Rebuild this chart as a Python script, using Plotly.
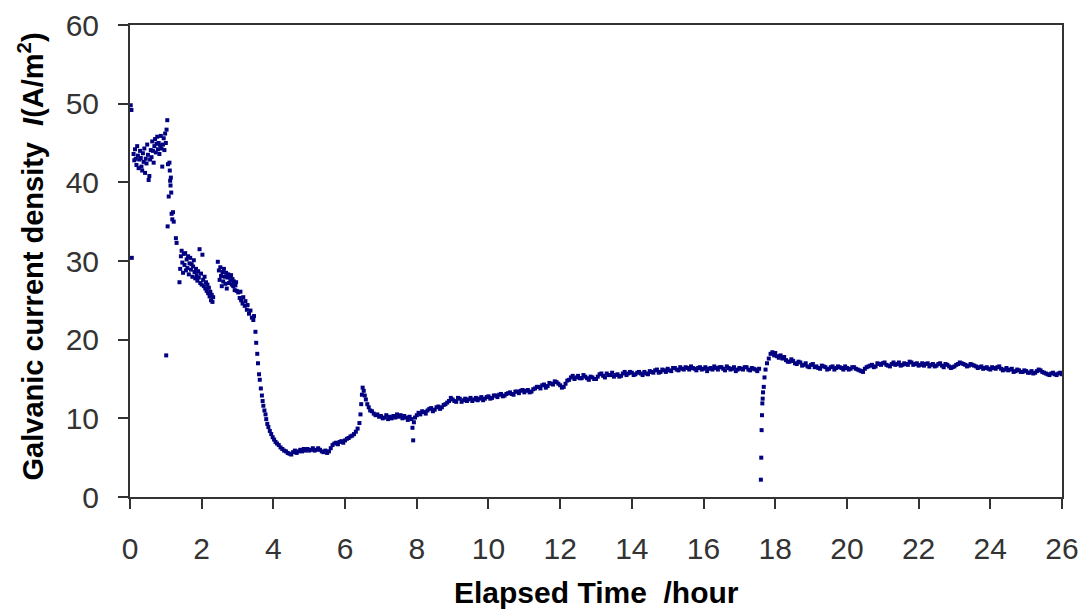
import plotly.graph_objects as go

# ---- data: (hour, current density A/m^2) ----
start_pts = [
    (0.02, 49.8), (0.04, 49.2), (0.05, 30.4), (0.10, 43.6), (0.12, 42.8), (0.14, 44.2), (0.16, 43.0),
    (0.18, 42.2), (0.20, 44.6), (0.22, 43.4), (0.24, 41.8), (0.26, 42.9), (0.28, 44.0), (0.30, 43.1),
    (0.32, 42.0), (0.34, 41.5), (0.36, 43.7), (0.38, 42.6), (0.40, 44.3), (0.42, 41.2), (0.44, 43.0),
    (0.46, 42.4), (0.48, 44.8), (0.50, 43.5), (0.52, 40.3), (0.54, 40.8), (0.56, 42.9), (0.58, 44.1),
    (0.60, 43.2), (0.62, 45.2), (0.64, 44.0), (0.66, 42.5), (0.68, 44.6), (0.70, 45.5), (0.72, 43.8),
    (0.74, 44.9), (0.76, 45.8), (0.78, 44.2), (0.80, 45.0), (0.82, 43.6), (0.84, 44.7), (0.86, 45.9),
    (0.88, 44.3), (0.90, 42.0), (0.92, 44.8), (0.94, 45.6), (0.96, 44.1), (0.98, 46.2), (1.00, 45.0),
    (1.01, 18.0), (1.02, 46.7), (1.04, 47.9), (1.05, 34.4), (1.06, 42.3), (1.08, 38.2), (1.10, 42.5),
    (1.11, 41.5), (1.12, 40.2), (1.13, 39.6), (1.14, 40.6), (1.15, 38.7), (1.16, 36.0), (1.18, 35.3),
    (1.20, 36.2), (1.22, 35.0), (1.28, 32.9), (1.30, 32.3),
]

plateau_pts = [
    (1.38, 27.3), (1.40, 29.0), (1.42, 30.6), (1.44, 31.3), (1.46, 29.8), (1.48, 28.5), (1.50, 30.9),
    (1.52, 29.5), (1.54, 31.0), (1.56, 28.8), (1.58, 30.2), (1.60, 29.1), (1.62, 30.6), (1.64, 28.3),
    (1.66, 29.7), (1.68, 30.4), (1.70, 28.9), (1.72, 29.6), (1.74, 28.0), (1.76, 29.3), (1.78, 30.1),
    (1.80, 28.6), (1.82, 27.8), (1.84, 29.0), (1.86, 28.2), (1.88, 27.5), (1.90, 28.7), (1.92, 27.9),
    (1.94, 31.5), (1.96, 27.2), (1.98, 28.4), (2.00, 27.0), (2.02, 30.8), (2.04, 27.6), (2.06, 26.8),
    (2.08, 28.0), (2.10, 26.5), (2.12, 27.3), (2.14, 26.2), (2.16, 27.0), (2.18, 25.9), (2.20, 26.6),
    (2.22, 25.5), (2.24, 26.1), (2.26, 25.0), (2.28, 25.7), (2.30, 24.8), (2.32, 25.4),
    (2.45, 29.9), (2.48, 28.8), (2.50, 27.6), (2.52, 29.2), (2.54, 28.1), (2.56, 26.8), (2.58, 28.6),
    (2.60, 27.4), (2.62, 29.0), (2.64, 28.0), (2.66, 27.1), (2.68, 28.5), (2.70, 26.5), (2.72, 27.9),
    (2.74, 28.3), (2.76, 27.2), (2.78, 28.0), (2.80, 27.5), (2.82, 28.2), (2.84, 27.0), (2.86, 27.7),
    (2.88, 26.8), (2.90, 27.4), (2.92, 26.3), (2.94, 26.9), (2.96, 27.3), (2.98, 26.2), (3.02, 26.0),
    (3.06, 25.3), (3.08, 26.1), (3.10, 25.0), (3.14, 24.6), (3.16, 25.4), (3.20, 24.3), (3.22, 24.9),
    (3.26, 23.8), (3.28, 24.4), (3.32, 23.3), (3.36, 23.7), (3.40, 22.8), (3.44, 22.5), (3.46, 23.0),
]

drop_pts = [
    (3.50, 21.0), (3.52, 19.6), (3.55, 18.2), (3.57, 17.0), (3.60, 15.6), (3.62, 14.9), (3.65, 13.8),
    (3.68, 12.9), (3.70, 12.2), (3.72, 11.6), (3.75, 11.0), (3.78, 10.5), (3.80, 9.9), (3.83, 9.3),
    (3.86, 8.9), (3.90, 8.4), (3.94, 8.0), (3.98, 7.6), (4.02, 7.3), (4.06, 7.0), (4.10, 6.8),
    (4.15, 6.6), (4.20, 6.3), (4.25, 6.1), (4.30, 5.9), (4.35, 5.8), (4.40, 5.6), (4.45, 5.5),
    (4.50, 5.4), (4.55, 5.7), (4.60, 5.9), (4.65, 5.6), (4.70, 5.8), (4.75, 6.0), (4.80, 5.8),
    (4.85, 6.1), (4.90, 5.9), (4.95, 6.1), (5.00, 5.9), (5.05, 6.0), (5.10, 6.2), (5.15, 5.9),
    (5.20, 6.0), (5.25, 6.2), (5.30, 6.0), (5.35, 5.8), (5.40, 5.7), (5.45, 5.9), (5.50, 5.6),
    (5.55, 5.8), (5.60, 6.2), (5.65, 6.6), (5.70, 6.8), (5.75, 6.9), (5.80, 6.7), (5.85, 7.0),
    (5.90, 7.1), (5.95, 6.9), (6.00, 7.2), (6.05, 7.4), (6.10, 7.5), (6.15, 7.7), (6.20, 7.8),
    (6.25, 8.0), (6.30, 8.3), (6.35, 8.7), (6.40, 9.4), (6.43, 10.5), (6.45, 11.8), (6.47, 13.0),
    (6.49, 13.9), (6.52, 13.5), (6.55, 12.9), (6.58, 12.4), (6.62, 11.8), (6.66, 11.4), (6.70, 11.0),
    (6.75, 10.9), (6.80, 10.6), (6.85, 10.4), (6.90, 10.5), (6.95, 10.2), (7.00, 10.3), (7.05, 10.0),
    (7.10, 10.1), (7.15, 10.4), (7.20, 9.9), (7.25, 10.2), (7.30, 10.0), (7.35, 10.3), (7.40, 10.1),
    (7.45, 10.5), (7.50, 10.2), (7.55, 10.4), (7.60, 10.0), (7.65, 10.3), (7.70, 10.1), (7.75, 9.8),
    (7.80, 10.2), (7.85, 9.9), (7.88, 8.8), (7.90, 7.2), (7.92, 9.5), (7.95, 10.1),
]

rise_pts = [
    (8.00, 10.4), (8.05, 10.7), (8.10, 10.5), (8.15, 10.9), (8.20, 10.8), (8.25, 10.6), (8.30, 11.0),
    (8.35, 11.2), (8.40, 11.3), (8.45, 10.9), (8.50, 11.1), (8.55, 11.4), (8.60, 11.5), (8.65, 11.2),
    (8.70, 11.4), (8.75, 11.7), (8.80, 11.8), (8.85, 12.0), (8.90, 12.2), (8.95, 12.6), (9.00, 12.4),
    (9.05, 12.2), (9.10, 12.1), (9.15, 12.6), (9.20, 12.5), (9.25, 12.1), (9.30, 12.3), (9.35, 12.5),
    (9.40, 12.2), (9.45, 12.4), (9.50, 12.6), (9.55, 12.2), (9.60, 12.4), (9.65, 12.6), (9.70, 12.3),
    (9.75, 12.5), (9.80, 12.7), (9.85, 12.3), (9.90, 12.5), (9.95, 12.7), (10.0, 12.8), (10.05, 12.5),
    (10.1, 12.6), (10.15, 12.9), (10.2, 12.9), (10.25, 12.7), (10.3, 13.0), (10.35, 13.1), (10.4, 12.8),
    (10.45, 12.9), (10.5, 13.1), (10.55, 13.2), (10.6, 13.3), (10.65, 13.1), (10.7, 13.0), (10.75, 13.4),
    (10.8, 13.4), (10.85, 13.2), (10.9, 13.5), (10.95, 13.6), (11.0, 13.3), (11.05, 13.5), (11.1, 13.6),
    (11.15, 13.3), (11.2, 13.4), (11.25, 13.7), (11.3, 13.8), (11.35, 14.0), (11.4, 14.0), (11.45, 13.8),
    (11.5, 14.2), (11.55, 14.3), (11.6, 13.9), (11.65, 14.1), (11.7, 14.5), (11.75, 14.4), (11.8, 14.3),
    (11.85, 14.7), (11.9, 14.6), (11.95, 14.4), (12.0, 14.2), (12.05, 13.9), (12.1, 14.0), (12.15, 14.4),
    (12.2, 14.8), (12.25, 14.9), (12.3, 15.2), (12.35, 15.4), (12.4, 15.0), (12.45, 15.2), (12.5, 15.4),
    (12.55, 15.1), (12.6, 15.1), (12.65, 15.5), (12.7, 15.3), (12.75, 15.1), (12.8, 14.9), (12.85, 15.3),
    (12.9, 15.2), (12.95, 15.0), (13.0, 15.0), (13.05, 15.3), (13.1, 15.6), (13.15, 15.7), (13.2, 15.4),
    (13.25, 15.2), (13.3, 15.7), (13.35, 15.5), (13.4, 15.5), (13.45, 15.8), (13.5, 15.3), (13.55, 15.5),
    (13.6, 15.6), (13.65, 15.3), (13.7, 15.4), (13.75, 15.7), (13.8, 15.9), (13.85, 15.5), (13.9, 15.7),
    (13.95, 15.9), (14.0, 15.8), (14.05, 15.5), (14.1, 15.6), (14.15, 15.8), (14.2, 15.9), (14.25, 15.7),
    (14.3, 15.5), (14.35, 15.9), (14.4, 15.7), (14.45, 15.6), (14.5, 16.0), (14.55, 15.9), (14.6, 15.8),
    (14.65, 16.1), (14.7, 16.2), (14.75, 15.8), (14.8, 15.9), (14.85, 16.2), (14.9, 16.1), (14.95, 15.9),
    (15.0, 16.3), (15.05, 16.1), (15.1, 16.0), (15.15, 16.4), (15.2, 16.4), (15.25, 16.2), (15.3, 16.1),
    (15.35, 16.5), (15.4, 16.3), (15.45, 16.2), (15.5, 16.5), (15.55, 16.4), (15.6, 16.2), (15.65, 16.6),
    (15.7, 16.4), (15.75, 16.3), (15.8, 16.1), (15.85, 16.4), (15.9, 16.5), (15.95, 16.2), (16.0, 16.3),
    (16.05, 16.5), (16.1, 16.0), (16.15, 16.3), (16.2, 16.4), (16.25, 16.2), (16.3, 16.6), (16.35, 16.4),
    (16.4, 16.2), (16.45, 16.5), (16.5, 16.5), (16.55, 16.3), (16.6, 16.1), (16.65, 16.6), (16.7, 16.4),
    (16.75, 16.2), (16.8, 16.3), (16.85, 16.5), (16.9, 16.0), (16.95, 16.2), (17.0, 16.4), (17.05, 16.3),
    (17.1, 16.2), (17.15, 16.5), (17.2, 16.5), (17.25, 16.2), (17.3, 16.1), (17.35, 16.4), (17.4, 16.3),
    (17.45, 16.2), (17.5, 16.0), (17.55, 16.3),
]

late_pts = [
    (17.60, 2.2), (17.61, 5.0), (17.62, 8.5), (17.63, 10.4), (17.64, 11.9), (17.65, 12.5), (17.66, 13.3),
    (17.68, 14.0), (17.70, 15.2), (17.73, 16.2), (17.77, 17.0), (17.82, 17.6), (17.87, 18.2),
    (17.92, 18.4), (17.97, 18.0), (18.0, 18.3), (18.05, 17.9), (18.1, 17.7), (18.15, 18.0), (18.2, 17.6),
    (18.25, 17.8), (18.3, 17.4), (18.35, 17.2), (18.4, 17.2), (18.45, 17.5), (18.5, 17.3), (18.55, 17.0),
    (18.6, 16.9), (18.65, 17.2), (18.7, 17.1), (18.75, 16.7), (18.8, 16.8), (18.85, 17.0), (18.9, 16.6),
    (18.95, 16.5), (19.0, 16.8), (19.05, 16.9), (19.1, 16.5), (19.15, 16.6), (19.2, 16.4), (19.25, 16.3),
    (19.3, 16.7), (19.35, 16.6), (19.4, 16.5), (19.45, 16.2), (19.5, 16.3), (19.55, 16.5), (19.6, 16.6),
    (19.65, 16.2), (19.7, 16.4), (19.75, 16.6), (19.8, 16.5), (19.85, 16.4), (19.9, 16.2), (19.95, 16.6),
    (20.0, 16.4), (20.05, 16.2), (20.1, 16.3), (20.15, 16.5), (20.2, 16.5), (20.25, 16.3), (20.3, 16.2),
    (20.35, 16.1), (20.4, 16.0), (20.45, 15.9), (20.5, 16.3), (20.55, 16.5), (20.6, 16.6), (20.65, 16.7),
    (20.7, 16.8), (20.75, 16.5), (20.8, 16.6), (20.85, 17.0), (20.9, 16.9), (20.95, 16.8), (21.0, 17.0),
    (21.05, 17.1), (21.1, 16.8), (21.15, 16.7), (21.2, 16.6), (21.25, 16.9), (21.3, 17.1), (21.35, 16.8),
    (21.4, 16.9), (21.45, 17.1), (21.5, 16.7), (21.55, 16.8), (21.6, 17.0), (21.65, 16.9), (21.7, 16.8),
    (21.75, 17.2), (21.8, 17.1), (21.85, 16.8), (21.9, 16.9), (21.95, 17.0), (22.0, 16.7), (22.05, 16.8),
    (22.1, 17.0), (22.15, 16.7), (22.2, 16.9), (22.25, 17.0), (22.3, 16.6), (22.35, 16.8), (22.4, 16.9),
    (22.45, 16.6), (22.5, 16.7), (22.55, 16.9), (22.6, 17.0), (22.65, 16.7), (22.7, 16.5), (22.75, 16.9),
    (22.8, 16.8), (22.85, 16.6), (22.9, 16.4), (22.95, 16.5), (23.0, 16.6), (23.05, 16.8), (23.1, 16.9),
    (23.15, 17.1), (23.2, 17.0), (23.25, 16.9), (23.3, 16.8), (23.35, 16.6), (23.4, 16.7), (23.45, 16.9),
    (23.5, 16.8), (23.55, 16.7), (23.6, 16.6), (23.65, 16.4), (23.7, 16.5), (23.75, 16.6), (23.8, 16.3),
    (23.85, 16.4), (23.9, 16.5), (23.95, 16.3), (24.0, 16.2), (24.05, 16.5), (24.1, 16.4), (24.15, 16.3),
    (24.2, 16.5), (24.25, 16.6), (24.3, 16.3), (24.35, 16.1), (24.4, 16.2), (24.45, 16.4), (24.5, 16.1),
    (24.55, 16.2), (24.6, 16.3), (24.65, 15.9), (24.7, 16.0), (24.75, 16.2), (24.8, 16.1), (24.85, 15.9),
    (24.9, 15.9), (24.95, 16.1), (25.0, 16.0), (25.05, 15.8), (25.1, 15.8), (25.15, 16.0), (25.2, 15.7),
    (25.25, 15.8), (25.3, 16.0), (25.35, 16.2), (25.4, 16.1), (25.45, 15.9), (25.5, 15.8), (25.55, 15.7),
    (25.6, 15.6), (25.65, 15.5), (25.7, 15.7), (25.75, 15.8), (25.8, 15.6), (25.85, 15.5), (25.9, 15.7),
    (25.95, 15.8), (26.0, 15.6),
]

x_ticks = [0, 2, 4, 6, 8, 10, 12, 14, 16, 18, 20, 22, 24, 26]
y_ticks = [0, 10, 20, 30, 40, 50, 60]

all_pts = start_pts + plateau_pts + drop_pts + rise_pts + late_pts
hours = [p[0] for p in all_pts]
current = [p[1] for p in all_pts]

FONT = "Liberation Sans, Arial, sans-serif"

fig = go.Figure(
    go.Scatter(
        x=hours, y=current, mode="markers",
        marker=dict(symbol="square", size=4, color="#000080", line=dict(width=0)),
        hoverinfo="x+y",
    )
)

axis_common = dict(
    showgrid=False, zeroline=False,
    showline=True, linecolor="#333333", linewidth=2, mirror=True,
    ticks="outside", ticklen=10, tickwidth=2, tickcolor="#333333",
    tickfont=dict(family=FONT, size=30, color="#333333"),
)

fig.update_xaxes(range=[0, 26], tickvals=x_ticks, ticktext=[str(v) for v in x_ticks],
                 ticklabelstandoff=14, **axis_common)
fig.update_yaxes(range=[0, 60], tickvals=y_ticks, ticktext=[str(v) for v in y_ticks],
                 ticklabelstandoff=13, **axis_common)

fig.update_layout(
    width=1085, height=615,
    margin=dict(l=130, r=23, t=25, b=118, autoexpand=False),
    paper_bgcolor="white", plot_bgcolor="white",
    showlegend=False,
    font=dict(family=FONT),
    annotations=[
        dict(text="<b>Elapsed Time  /hour</b>", xref="paper", yref="paper",
             x=0.5, y=-0.203, xanchor="center", yanchor="middle", showarrow=False,
             font=dict(family=FONT, size=30, color="#000000")),
        dict(text="<b>Galvanic current density  <i>I</i>(A/m<sup>2</sup>)</b>", xref="paper", yref="paper",
             x=-0.106, y=0.51, xanchor="center", yanchor="middle", textangle=-90, showarrow=False,
             font=dict(family=FONT, size=29, color="#000000")),
    ],
)

fig.write_html("out.html")
